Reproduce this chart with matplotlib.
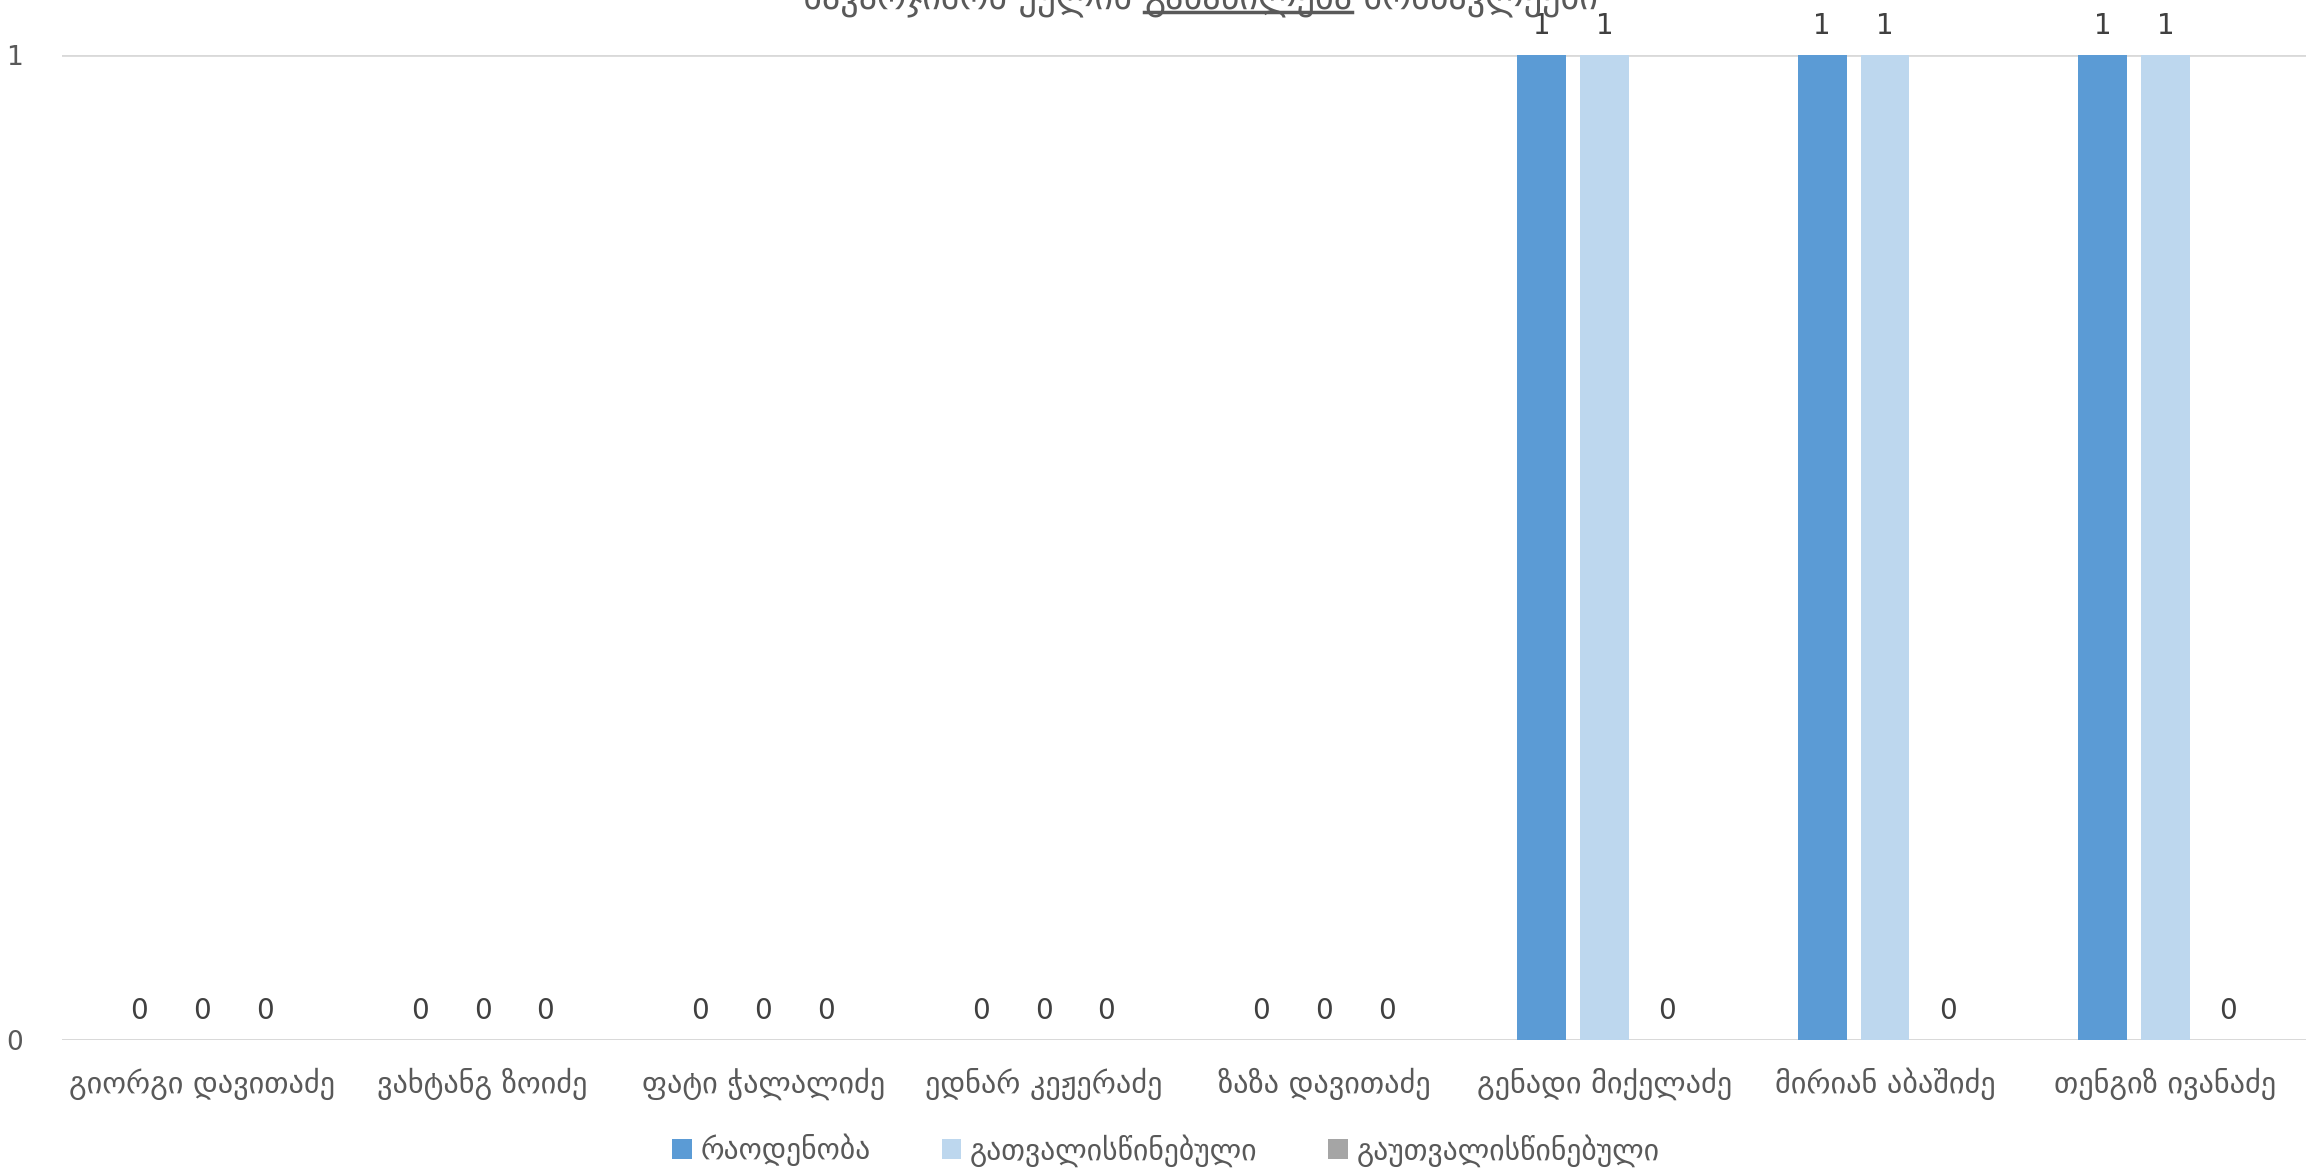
import numpy as np
import matplotlib.pyplot as plt
import matplotlib as mpl

mpl.rcParams['font.family'] = ['DejaVu Sans']

# data
names = ['გიორგი დავითაძე', 'ვახტანგ ზოიძე', 'ფატი ჭალალიძე', 'ედნარ კეჟერაძე',
         'ზაზა დავითაძე', 'გენადი მიქელაძე', 'მირიან აბაშიძე', 'თენგიზ ივანაძე']
raodenoba = [0, 0, 0, 0, 0, 1, 1, 1]
gatvaliswinebuli = [0, 0, 0, 0, 0, 1, 1, 1]
gautvaliswinebuli = [0, 0, 0, 0, 0, 0, 0, 0]
series_names = ['რაოდენობა', 'გათვალისწინებული', 'გაუთვალისწინებული']
colors = ['#5B9BD5', '#BDD7EE', '#A5A5A5']
title_parts = ['სავარჯიშოს ქულის ', 'განაწილება', ' მოსწავლეები']

fig = plt.figure(figsize=(23.18, 11.75), dpi=100)
ax = fig.add_axes([0.0267, 0.115, 0.968, 0.838])

x = np.arange(len(names))
step = 0.224
w = 0.174
txt = '#404040'
for i, (vals, lab, c) in enumerate(zip([raodenoba, gatvaliswinebuli, gautvaliswinebuli],
                                       series_names, colors)):
    bars = ax.bar(x + (i - 1) * step, vals, w, color=c, label=lab, zorder=3)
    ax.bar_label(bars, labels=[str(v) for v in vals], padding=11, fontsize=20, color=txt)

ax.set_xlim(-0.5, len(names) - 0.5)
ax.set_ylim(0, 1)
ax.set_yticks([0, 1])
ax.set_yticklabels(['0', '1'], fontsize=19, color='#595959')
ax.set_xticks(x)
ax.set_xticklabels(names, fontsize=21.8, color='#595959')
ax.tick_params(axis='both', length=0)
ax.tick_params(axis='x', pad=20)
ax.tick_params(axis='y', pad=28)
for s in ax.spines.values():
    s.set_visible(False)
ax.grid(axis='y', color='#D9D9D9', linewidth=2, zorder=0)
ax.set_axisbelow(True)
ax.axhline(0, color='#D9D9D9', linewidth=2, zorder=1)

leg = fig.legend(loc='center', bbox_to_anchor=(0.503, 0.021), ncol=3, frameon=False,
                 fontsize=21.3, handlelength=0.65, handleheight=0.65, handletextpad=0.3,
                 columnspacing=2.4)
for t in leg.get_texts():
    t.set_color('#595959')

# title, clipped at the top edge as in the original; middle word underlined
fig.canvas.draw()
r = fig.canvas.get_renderer()
ty = 1.002
pieces = [fig.text(0, ty, p, ha='left', va='center', fontsize=26, color='#595959')
          for p in title_parts]
widths = [p.get_window_extent(r).width / fig.bbox.width for p in pieces]
x0 = 0.518 - sum(widths) / 2
for p, wd in zip(pieces, widths):
    p.set_x(x0)
    x0 += wd
mid = pieces[1].get_window_extent(r)
fig.add_artist(plt.Line2D([mid.x0 / fig.bbox.width, mid.x1 / fig.bbox.width],
                          [mid.y0 / fig.bbox.height + 0.004] * 2,
                          transform=fig.transFigure, color='#595959', linewidth=2.5))

fig.savefig('out.png', dpi=100)
